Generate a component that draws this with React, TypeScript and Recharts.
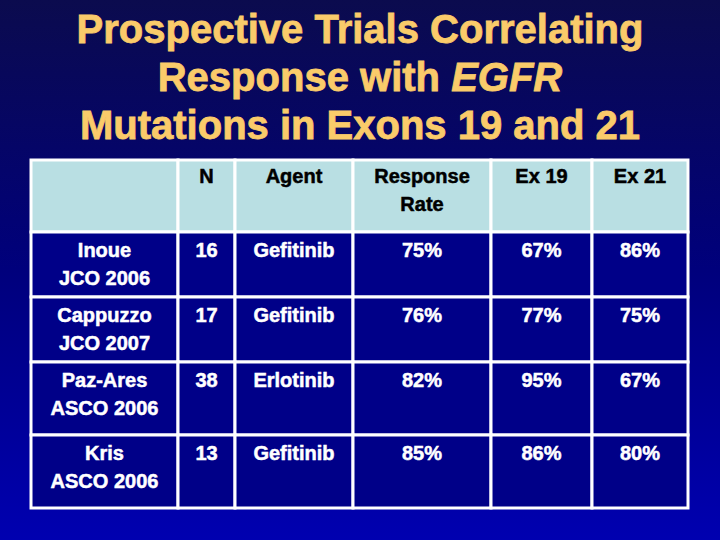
import React from 'react';
import { ComposedChart, XAxis, YAxis, Scatter, ReferenceArea } from 'recharts';

// ---- data ----
const headers: string[][] = [[''], ['N'], ['Agent'], ['Response', 'Rate'], ['Ex 19'], ['Ex 21']];
const studies: string[][] = [
  ['Inoue', 'JCO 2006'],
  ['Cappuzzo', 'JCO 2007'],
  ['Paz-Ares', 'ASCO 2006'],
  ['Kris', 'ASCO 2006'],
];
const patients = [16, 17, 38, 13];
const agents = ['Gefitinib', 'Gefitinib', 'Erlotinib', 'Gefitinib'];
const responseRate = [75, 76, 82, 85];
const exon19 = [67, 77, 95, 86];
const exon21 = [86, 75, 67, 80];

// ---- layout (relative column widths / row heights) ----
const COL_W = [147, 57, 118, 138, 101, 96];
const ROW_H = [72, 65, 65, 73, 73];
const cumulative = (a: number[]) => a.reduce((acc: number[], w) => [...acc, acc[acc.length - 1] + w], [0]);
const colEdges = cumulative(COL_W);
const rowEdges = cumulative(ROW_H);
const totalW = colEdges[colEdges.length - 1];
const totalH = rowEdges[rowEdges.length - 1];

const tableRows: string[][][] = [
  headers,
  ...studies.map((s, i) => [
    s,
    [String(patients[i])],
    [agents[i]],
    [`${responseRate[i]}%`],
    [`${exon19[i]}%`],
    [`${exon21[i]}%`],
  ]),
];

const cells = tableRows.flatMap((row, r) =>
  row.map((lines, c) => ({
    x: (colEdges[c] + colEdges[c + 1]) / 2,
    y: rowEdges[r],
    r,
    c,
    lines,
    header: r === 0,
  }))
);

const FONT = "'Liberation Sans', Arial, sans-serif";

const CellText = (props: any) => {
  const { cx, cy, payload } = props;
  if (cx == null || cy == null) return null;
  const color = payload.header ? '#000000' : '#ffffff';
  return (
    <text
      x={cx}
      y={cy + (payload.header ? 23 : 25)}
      textAnchor="middle"
      fontFamily={FONT}
      fontWeight="bold"
      fontSize={20}
      fill={color}
      stroke={color}
      strokeWidth={0.5}
    >
      {payload.lines.map((l: string, i: number) => (
        <tspan key={i} x={cx} dy={i === 0 ? 0 : 28}>
          {l}
        </tspan>
      ))}
    </text>
  );
};

export default function App() {
  return (
    <div
      style={{
        position: 'absolute',
        left: 0,
        top: 0,
        width: 720,
        height: 540,
        background: 'linear-gradient(to bottom, #0b0b4e 0%, #00007c 50%, #0000b0 100%)',
        overflow: 'hidden',
      }}
    >
      <svg width={720} height={160} style={{ position: 'absolute', left: 0, top: 0 }}>
        <g fontFamily={FONT} fontWeight="bold" fontSize={40} fill="#FACB6A" stroke="#FACB6A" strokeWidth={0.8} textAnchor="middle">
          <text x={360} y={43}>Prospective Trials Correlating</text>
          <text x={360} y={91}>
            Response with <tspan fontStyle="italic">EGFR</tspan>
          </text>
          <text x={360} y={139}>Mutations in Exons 19 and 21</text>
        </g>
      </svg>
      <div style={{ position: 'absolute', left: 0, top: 0 }}>
        <ComposedChart
          width={720}
          height={540}
          margin={{ top: 160, left: 31, right: 32, bottom: 32 }}
          data={cells}
        >
          <XAxis type="number" dataKey="x" domain={[0, totalW]} hide />
          <YAxis type="number" dataKey="y" domain={[0, totalH]} reversed hide />
          {cells.map((cell) => (
            <ReferenceArea
              key={`a-${cell.r}-${cell.c}`}
              x1={colEdges[cell.c]}
              x2={colEdges[cell.c + 1]}
              y1={rowEdges[cell.r]}
              y2={rowEdges[cell.r + 1]}
              fill={cell.header ? '#b9dfe3' : '#000088'}
              fillOpacity={1}
              stroke="#ffffff"
              strokeWidth={3}
              ifOverflow="visible"
            />
          ))}
          <Scatter data={cells} dataKey="y" shape={<CellText />} isAnimationActive={false} />
        </ComposedChart>
      </div>
    </div>
  );
}
